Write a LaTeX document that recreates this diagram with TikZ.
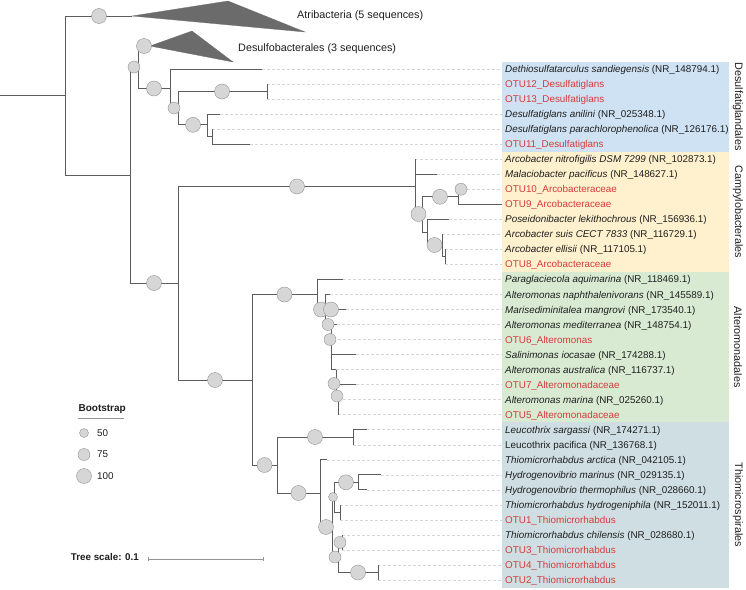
\documentclass[tikz,border=0pt]{standalone}
\usepackage{fontspec}
\setmainfont{Liberation Sans}
\definecolor{brc}{HTML}{5C5C5C}
\definecolor{leadc}{HTML}{D6D6D6}
\definecolor{bootf}{HTML}{D6D6D6}
\definecolor{bootd}{HTML}{939393}
\definecolor{tric}{HTML}{6B6B6B}
\definecolor{txt}{HTML}{1E1E1E}
\definecolor{otuc}{HTML}{D63A3A}
\definecolor{boxA}{RGB}{207,226,243}
\definecolor{boxB}{RGB}{255,241,206}
\definecolor{boxC}{RGB}{217,234,211}
\definecolor{boxD}{RGB}{207,222,227}
\newcommand\labfont{\fontsize{9.85}{11}\selectfont}
\newcommand\cladefont{\fontsize{10.8}{12}\selectfont}
\tikzset{
  br/.style={draw=brc, line width=0.9pt},
  lead/.style={draw=leadc, line width=0.6pt, dash pattern=on 2.5pt off 2.5pt},
  bootS/.style={circle, draw=bootd, fill=bootf, line width=0.4pt, minimum size=9pt, inner sep=0pt},
  bootM/.style={bootS, minimum size=12pt},
  bootL/.style={bootS, minimum size=15pt},
  lab/.style={anchor=base west, font=\labfont, text=txt, inner sep=0pt},
  otu/.style={lab, text=otuc},
  cladelab/.style={rotate=-90, font=\cladefont, text=txt, anchor=center, inner sep=0pt},
  colllab/.style={anchor=west, font=\cladefont, text=txt, inner sep=0pt},
  tri/.style={fill=tric, draw=tric, line width=0.3pt},
}
\begin{document}
\begin{tikzpicture}[x=1pt,y=-1pt]
\useasboundingbox (0,0) rectangle (746,589);
% background boxes
\fill[boxA] (502,61.5) rectangle (729,151.7);
\fill[boxB] (502,151.7) rectangle (729,271.9);
\fill[boxC] (502,271.9) rectangle (729,422.2);
\fill[boxD] (502,422.2) rectangle (729,587.5);
\coordinate (bx) at (502,0);
% internal nodes
\coordinate (R0) at (0,95.5);
\coordinate (A) at (65,95.5);
\coordinate (Atri) at (132,16);
\coordinate (B) at (130,175);
\coordinate (C) at (138,67);
\coordinate (Dsb) at (150,46);
\coordinate (E) at (170,88.5);
\coordinate (F) at (178,108);
\coordinate (G) at (267,91.5);
\coordinate (H) at (207,124.8);
\coordinate (I) at (212,136.6);
\coordinate (D) at (178,283);
\coordinate (K) at (415,186.5);
\coordinate (N) at (422,214);
\coordinate (M) at (458,196.8);
\coordinate (P) at (427,232);
\coordinate (Q) at (442,245);
\coordinate (R) at (445,256.9);
\coordinate (X) at (252,380);
\coordinate (S) at (317,294.5);
\coordinate (T) at (325,309.5);
\coordinate (T2) at (331,324.5);
\coordinate (T4) at (336,369.6);
\coordinate (T5) at (338,396);
\coordinate (Y) at (277,465);
\coordinate (Z) at (353,437);
\coordinate (W) at (320,493);
\coordinate (W1) at (332,527);
\coordinate (W2) at (334,497);
\coordinate (Hn) at (358,482.3);
\coordinate (H2) at (340,512.4);
\coordinate (W3) at (338,557);
\coordinate (W4) at (342,542.4);
\coordinate (W5) at (378,572.5);
% tips
\coordinate (p0) at (262,69);
\coordinate (p1) at (267,84);
\coordinate (p2) at (267,99.1);
\coordinate (p3) at (220,114.1);
\coordinate (p4) at (212,129.1);
\coordinate (p5) at (250,144.2);
\coordinate (p6) at (415,159.2);
\coordinate (p7) at (437,174.2);
\coordinate (p8) at (467,189.2);
\coordinate (p9) at (502,204.3);
\coordinate (p10) at (449,219.3);
\coordinate (p11) at (442,234.3);
\coordinate (p12) at (445,249.4);
\coordinate (p13) at (445,264.4);
\coordinate (p14) at (343,279.4);
\coordinate (p15) at (330,294.5);
\coordinate (p16) at (346,309.5);
\coordinate (p17) at (337,324.5);
\coordinate (p18) at (333,339.5);
\coordinate (p19) at (356,354.6);
\coordinate (p20) at (336,369.6);
\coordinate (p21) at (356,384.6);
\coordinate (p22) at (338,399.7);
\coordinate (p23) at (338,414.7);
\coordinate (p24) at (367,429.7);
\coordinate (p25) at (353,444.8);
\coordinate (p26) at (327,459.8);
\coordinate (p27) at (381,474.8);
\coordinate (p28) at (367,489.8);
\coordinate (p29) at (340,504.9);
\coordinate (p30) at (340,519.9);
\coordinate (p31) at (342,534.9);
\coordinate (p32) at (342,550);
\coordinate (p33) at (378,565);
\coordinate (p34) at (378,580);
% leaders
\foreach \i in {0,...,8,10,11,12,13,14,15,16,17,18,19,20,21,22,23,24,25,26,27,28,29,30,31,32,33,34}
  \draw[lead] (p\i) -- (p\i -| bx);
% collapsed clades
\fill[tri] (Atri) -- (228,1) -- (305,32) -- cycle;
\fill[tri] (Dsb) -- (192,31) -- (233,62) -- cycle;
% branches
\draw[br] (R0) -- (A);
\draw[br] (A) |- (Atri) (A) |- (B)
  (B) |- (C) (B) |- (D)
  (C) |- (Dsb) (C) |- (E)
  (E) |- (p0) (E) |- (F)
  (F) |- (G) (F) |- (H)
  (G) |- (p1) (G) |- (p2)
  (H) |- (p3) (H) |- (I)
  (I) |- (p4) (I) |- (p5)
  (D) |- (K) (D) |- (X)
  (K) |- (p6) (K) |- (p7) (K) |- (N)
  (N) |- (M) (N) |- (P)
  (M) |- (p8) (M) |- (p9)
  (P) |- (p10) (P) |- (Q)
  (Q) |- (p11) (Q) |- (R)
  (R) |- (p12) (R) |- (p13)
  (X) |- (S) (X) |- (Y)
  (S) |- (p14) (S) |- (T)
  (T) |- (p15) (T) |- (p16) (T) |- (T2)
  (T2) |- (p17) (T2) |- (p18) (T2) |- (p19) (T2) |- (T4)
  (T4) |- (p20) (T4) |- (p21) (T4) |- (T5)
  (T5) |- (p22) (T5) |- (p23)
  (Y) |- (Z) (Y) |- (W)
  (Z) |- (p24) (Z) |- (p25)
  (W) |- (p26) (W) |- (W1)
  (W1) |- (W2) (W1) |- (W3)
  (W2) |- (Hn) (W2) |- (H2)
  (Hn) |- (p27) (Hn) |- (p28)
  (H2) |- (p29) (H2) |- (p30)
  (W3) |- (W4) (W3) |- (W5)
  (W4) |- (p31) (W4) |- (p32)
  (W5) |- (p33) (W5) |- (p34);
% bootstrap circles
\node[bootL] (c1) at (99,16) {};
\node[bootL] (c2) at (144,46) {};
\node[bootM] (c3) at (134,67) {};
\node[bootL] (c4) at (154,88.5) {};
\node[bootM] (c5) at (174,108) {};
\node[bootL] (c6) at (222,91.5) {};
\node[bootL] (c7) at (193,124.8) {};
\node[bootL] (c8) at (154,283) {};
\node[bootL] (c9) at (297,186.5) {};
\node[bootL] (c10) at (215,380) {};
\node[bootL] (c11) at (418.5,214) {};
\node[bootL] (c12) at (440,196.8) {};
\node[bootM] (c13) at (461,189.2) {};
\node[bootL] (c14) at (434.5,245) {};
\node[bootL] (c15) at (284.5,294.5) {};
\node[bootL] (c16) at (321,309.5) {};
\node[bootL] (c17) at (331,309.5) {};
\node[bootM] (c18) at (328,324.5) {};
\node[bootM] (c19) at (330,339.5) {};
\node[bootM] (c20) at (334,383.5) {};
\node[bootM] (c21) at (337,396) {};
\node[bootL] (c22) at (264.5,465) {};
\node[bootL] (c23) at (315,437) {};
\node[bootL] (c24) at (298.5,493) {};
\node[bootL] (c25) at (346,482.3) {};
\node[bootS] (c26) at (333,497) {};
\node[bootL] (c27) at (326,527) {};
\node[bootM] (c28) at (340,542.4) {};
\node[bootM] (c29) at (335,557) {};
\node[bootL] (c30) at (358,572.5) {};
% collapsed labels
\node[colllab] (atl) at (297,16) {Atribacteria (5 sequences)};
\node[colllab] (dsl) at (238,49) {Desulfobacterales (3 sequences)};
% tip labels
\node[lab] (t0) at (505,72.5) {\textit{Dethiosulfatarculus sandiegensis} (NR\_148794.1)};
\node[otu] (t1) at (505,87.5) {OTU12\_Desulfatiglans};
\node[otu] (t2) at (505,102.6) {OTU13\_Desulfatiglans};
\node[lab] (t3) at (505,117.6) {\textit{Desulfatiglans anilini} (NR\_025348.1)};
\node[lab] (t4) at (505,132.6) {\textit{Desulfatiglans parachlorophenolica} (NR\_126176.1)};
\node[otu] (t5) at (505,147.7) {OTU11\_Desulfatiglans};
\node[lab] (t6) at (505,162.7) {\textit{Arcobacter nitrofigilis DSM 7299} (NR\_102873.1)};
\node[lab] (t7) at (505,177.7) {\textit{Malaciobacter pacificus} (NR\_148627.1)};
\node[otu] (t8) at (505,192.7) {OTU10\_Arcobacteraceae};
\node[otu] (t9) at (505,207.8) {OTU9\_Arcobacteraceae};
\node[lab] (t10) at (505,222.8) {\textit{Poseidonibacter lekithochrous} (NR\_156936.1)};
\node[lab] (t11) at (505,237.8) {\textit{Arcobacter suis CECT 7833} (NR\_116729.1)};
\node[lab] (t12) at (505,252.9) {\textit{Arcobacter ellisii} (NR\_117105.1)};
\node[otu] (t13) at (505,267.9) {OTU8\_Arcobacteraceae};
\node[lab] (t14) at (505,282.9) {\textit{Paraglaciecola aquimarina} (NR\_118469.1)};
\node[lab] (t15) at (505,298) {\textit{Alteromonas naphthalenivorans} (NR\_145589.1)};
\node[lab] (t16) at (505,313) {\textit{Marisediminitalea mangrovi} (NR\_173540.1)};
\node[lab] (t17) at (505,328) {\textit{Alteromonas mediterranea} (NR\_148754.1)};
\node[otu] (t18) at (505,343) {OTU6\_Alteromonas};
\node[lab] (t19) at (505,358.1) {\textit{Salinimonas iocasae} (NR\_174288.1)};
\node[lab] (t20) at (505,373.1) {\textit{Alteromonas australica} (NR\_116737.1)};
\node[otu] (t21) at (505,388.1) {OTU7\_Alteromonadaceae};
\node[lab] (t22) at (505,403.2) {\textit{Alteromonas marina} (NR\_025260.1)};
\node[otu] (t23) at (505,418.2) {OTU5\_Alteromonadaceae};
\node[lab] (t24) at (505,433.2) {\textit{Leucothrix sargassi} (NR\_174271.1)};
\node[lab] (t25) at (505,448.3) {Leucothrix pacifica (NR\_136768.1)};
\node[lab] (t26) at (505,463.3) {\textit{Thiomicrorhabdus arctica} (NR\_042105.1)};
\node[lab] (t27) at (505,478.3) {\textit{Hydrogenovibrio marinus} (NR\_029135.1)};
\node[lab] (t28) at (505,493.3) {\textit{Hydrogenovibrio thermophilus} (NR\_028660.1)};
\node[lab] (t29) at (505,508.4) {\textit{Thiomicrorhabdus hydrogeniphila} (NR\_152011.1)};
\node[otu] (t30) at (505,523.4) {OTU1\_Thiomicrorhabdus};
\node[lab] (t31) at (505,538.4) {\textit{Thiomicrorhabdus chilensis} (NR\_028680.1)};
\node[otu] (t32) at (505,553.5) {OTU3\_Thiomicrorhabdus};
\node[otu] (t33) at (505,568.5) {OTU4\_Thiomicrorhabdus};
\node[otu] (t34) at (505,583.5) {OTU2\_Thiomicrorhabdus};
% clade labels
\node[cladelab] (cl1) at (738,106.6) {Desulfatiglandales};
\node[cladelab] (cl2) at (738,211.8) {Campylobacterales};
\node[cladelab] (cl3) at (738,347) {Alteromonadales};
\node[cladelab] (cl4) at (738,504.9) {Thiomicrospirales};
% legend
\node[anchor=base east, font=\fontsize{10}{12}\selectfont\bfseries, text=txt, inner sep=0pt] (legt) at (126,411.5) {Bootstrap};
\draw[draw=bootd, line width=0.8pt] (78,418) -- (124,418);
\node[bootS] (lg1) at (84,433) {};
\node[bootM] (lg2) at (84,454.5) {};
\node[bootL] (lg3) at (84,476) {};
\node[lab, anchor=west] (lgt1) at (97,433) {50};
\node[lab, anchor=west] (lgt2) at (97,454.5) {75};
\node[lab, anchor=west] (lgt3) at (97,476) {100};
% scale bar
\node[anchor=base east, font=\fontsize{9.8}{12}\selectfont\bfseries, text=txt, inner sep=0pt] (sct) at (139,560.5) {Tree scale: 0.1};
\coordinate (sb1) at (148,559);
\coordinate (sb2) at (263,559);
\draw[draw=bootd, line width=0.8pt] (sb1) -- (sb2);
\draw[draw=bootd, line width=0.8pt] ([yshift=2pt]sb1) -- ([yshift=-2pt]sb1) ([yshift=2pt]sb2) -- ([yshift=-2pt]sb2);
\end{tikzpicture}
\end{document}
